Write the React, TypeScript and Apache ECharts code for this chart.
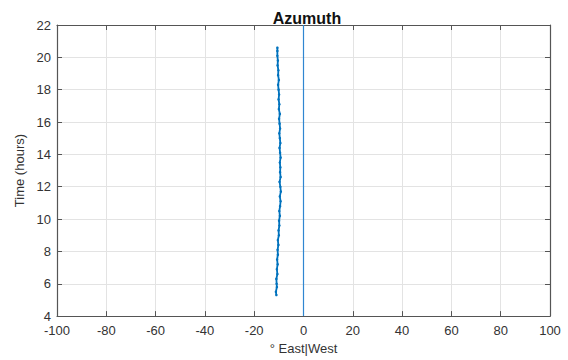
import React, { useEffect, useRef } from "react";
import * as echarts from "echarts";

const titleText = "Azumuth";
const xAxisName = "° East|West";
const yAxisName = "Time (hours)";

// Time (hours) along the trace
const hours = [
  5.3, 5.5, 5.8, 6.0, 6.3, 6.6, 6.9, 7.2, 7.5, 7.8, 8.1, 8.4, 8.7, 9.0, 9.3, 9.6,
  9.9, 10.2, 10.5, 10.8, 11.1, 11.4, 11.7, 12.0, 12.3, 12.6, 12.9, 13.2, 13.5,
  13.8, 14.1, 14.4, 14.7, 15.0, 15.3, 15.6, 15.9, 16.2, 16.5, 16.8, 17.1, 17.4,
  17.7, 18.0, 18.3, 18.6, 18.9, 19.2, 19.5, 19.8, 20.1, 20.4, 20.6,
];
// Azimuth (degrees) read at each time
const azimuth = [
  -11.0, -11.2, -10.8, -10.9, -11.0, -10.6, -10.8, -10.5, -10.7, -10.4, -10.5,
  -10.2, -10.4, -10.0, -10.1, -9.8, -9.9, -9.6, -9.8, -9.5, -9.3, -9.6, -9.2,
  -9.4, -9.7, -9.3, -9.5, -9.4, -9.6, -9.3, -9.5, -9.7, -9.4, -9.6, -9.8, -9.5,
  -9.7, -9.9, -9.6, -10.0, -9.8, -10.1, -9.9, -10.1, -10.3, -10.0, -10.3, -10.2,
  -10.5, -10.4, -10.6, -10.6, -10.6,
];

const xMin = -100, xMax = 100, xStep = 20;
const yMin = 4, yMax = 22, yStep = 2;
const zeroLineX = [0, 0];
const zeroLineY = [4, 22];

const txt = "#333333";
const font = "'Liberation Sans', Arial, sans-serif";

export default function App() {
  const ref = useRef<HTMLDivElement>(null);
  useEffect(() => {
    if (!ref.current) return;
    const chart = echarts.init(ref.current, undefined, { renderer: "svg" });
    const data = hours.map((h, i) => [azimuth[i], h]);
    const zero = zeroLineX.map((x, i) => [x, zeroLineY[i]]);
    const axisLine = { show: true, onZero: false, lineStyle: { color: "#555555", width: 1.2 } };
    const axisTick = { show: true, inside: true, length: 5, lineStyle: { color: "#555555" } };
    chart.setOption({
      animation: false,
      backgroundColor: "#ffffff",
      textStyle: { fontFamily: font },
      title: {
        text: titleText,
        left: 302,
        textAlign: "center",
        top: 5,
        textStyle: { fontSize: 16, fontWeight: "bold", color: "#111", fontFamily: font },
      },
      grid: { left: 57, right: 18, top: 25, bottom: 38, containLabel: false },
      xAxis: [
        {
          type: "value",
          min: xMin,
          max: xMax,
          interval: xStep,
          position: "bottom",
          name: xAxisName,
          nameLocation: "middle",
          nameGap: 22,
          nameTextStyle: { fontSize: 13, color: txt, fontFamily: font },
          axisLine,
          axisTick,
          axisLabel: { fontSize: 13, lineHeight: 13, color: txt, margin: 8, fontFamily: font },
          splitLine: { show: true, lineStyle: { color: "#e3e3e3", width: 1 } },
        },
        {
          type: "value",
          min: xMin,
          max: xMax,
          interval: xStep,
          position: "top",
          axisLine,
          axisTick,
          axisLabel: { show: false },
          splitLine: { show: false },
        },
      ],
      yAxis: [
        {
          type: "value",
          min: yMin,
          max: yMax,
          interval: yStep,
          position: "left",
          name: yAxisName,
          nameLocation: "middle",
          nameGap: 24,
          nameTextStyle: { fontSize: 13, color: txt, fontFamily: font },
          axisLine,
          axisTick,
          axisLabel: { fontSize: 13, lineHeight: 12, color: txt, margin: 6, fontFamily: font },
          splitLine: { show: true, lineStyle: { color: "#e3e3e3", width: 1 } },
        },
        {
          type: "value",
          min: yMin,
          max: yMax,
          interval: yStep,
          position: "right",
          axisLine,
          axisTick,
          axisLabel: { show: false },
          splitLine: { show: false },
        },
      ],
      series: [
        {
          type: "line",
          data: zero,
          xAxisIndex: 0,
          yAxisIndex: 0,
          showSymbol: false,
          silent: true,
          z: 3,
          itemStyle: { color: "#2f86d1" },
          lineStyle: { color: "#2f86d1", width: 1.2 },
        },
        {
          type: "line",
          data,
          xAxisIndex: 0,
          yAxisIndex: 0,
          showSymbol: true,
          symbol: "circle",
          symbolSize: 2.5,
          z: 4,
          itemStyle: { color: "#0072BD" },
          lineStyle: { color: "#0072BD", width: 1.8 },
        },
      ],
    });
    return () => chart.dispose();
  }, []);
  return <div ref={ref} style={{ width: 568, height: 360, position: "absolute", left: 0, top: 0 }} />;
}
